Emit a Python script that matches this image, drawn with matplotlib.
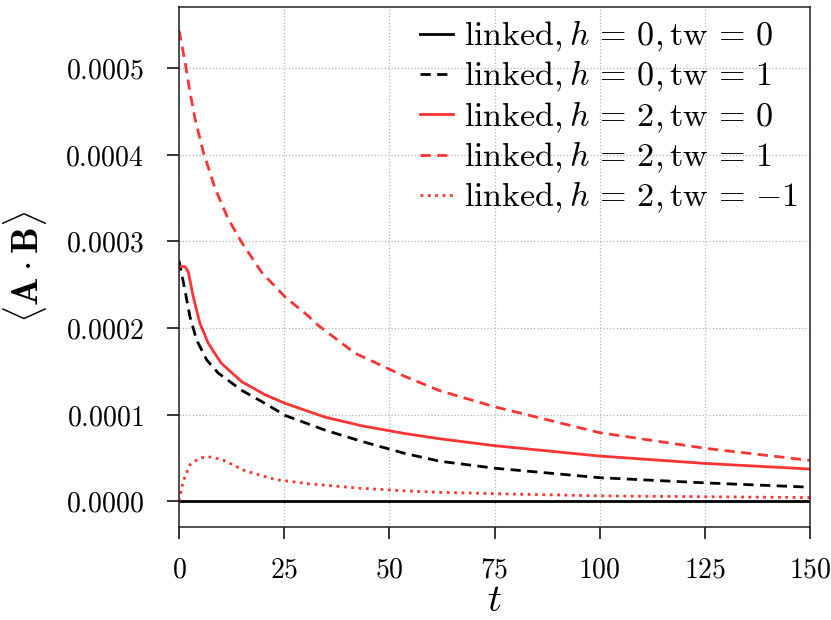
import numpy as np
import matplotlib
matplotlib.use("Agg")
import matplotlib.pyplot as plt
from matplotlib.ticker import FuncFormatter, MultipleLocator

plt.rcParams['mathtext.fontset'] = 'cm'
plt.rcParams['font.family'] = ['DejaVu Serif']
plt.rcParams['lines.dashed_pattern'] = [3.7, 2.3]

# dados (valores em unidades de 1e-4)
t_h0_tw0 = [0, 150]
v_h0_tw0 = [0.0, 0.0]

t_h0_tw1 = [0, 1.4, 2.6, 4.2, 6.6, 9.3, 14.9, 20.4, 25.2, 34.7, 43.4, 53.7, 62, 75, 100, 125, 150]
v_h0_tw1 = [2.78, 2.44, 2.13, 1.86, 1.63, 1.48, 1.28, 1.13, 0.99, 0.82, 0.69, 0.55, 0.46, 0.38, 0.27, 0.21, 0.16]

t_h2_tw0 = [0, 1.4, 2.2, 3.4, 5.0, 7.0, 10.1, 14.9, 20.4, 25.2, 34.7, 43.4, 53.7, 62, 75, 100, 125, 150]
v_h2_tw0 = [2.71, 2.71, 2.65, 2.36, 2.05, 1.82, 1.59, 1.38, 1.23, 1.13, 0.97, 0.87, 0.78, 0.72, 0.64, 0.52, 0.435, 0.37]

t_h2_tw1 = [0, 1.43, 2.6, 3.8, 5.8, 8.6, 11.7, 14.9, 19.7, 25.2, 30.7, 33.1, 41.8, 53.7, 62, 75, 100, 125, 150]
v_h2_tw1 = [5.44, 5.08, 4.73, 4.42, 4.03, 3.61, 3.26, 2.99, 2.64, 2.36, 2.14, 2.03, 1.71, 1.44, 1.275, 1.09, 0.79, 0.61, 0.47]

t_h2_twm1 = [0, 1.0, 2.6, 5.0, 7.8, 10.9, 15.7, 22.8, 30.7, 42.6, 52.9, 62, 75, 100, 125, 150]
v_h2_twm1 = [0.0, 0.23, 0.42, 0.50, 0.51, 0.465, 0.35, 0.25, 0.2, 0.15, 0.12, 0.1, 0.085, 0.06, 0.05, 0.04]

vermelho = '#ff3333'
escala = 1e-4

figure = plt.figure(figsize=(8.31, 6.2), dpi=100)
ax = figure.add_axes([179 / 831, 1 - 527 / 620, (810 - 179) / 831, (527 - 7) / 620])

series = [
    (t_h0_tw0, v_h0_tw0, 'black', '-', r'$\mathrm{linked}, h\,=\,0, \mathrm{tw}\,=\,0$'),
    (t_h0_tw1, v_h0_tw1, 'black', '--', r'$\mathrm{linked}, h\,=\,0, \mathrm{tw}\,=\,1$'),
    (t_h2_tw0, v_h2_tw0, vermelho, '-', r'$\mathrm{linked}, h\,=\,2, \mathrm{tw}\,=\,0$'),
    (t_h2_tw1, v_h2_tw1, vermelho, '--', r'$\mathrm{linked}, h\,=\,2, \mathrm{tw}\,=\,1$'),
    (t_h2_twm1, v_h2_twm1, vermelho, ':', r'$\mathrm{linked}, h\,=\,2, \mathrm{tw}\,=\,{-1}$'),
]
for t, v, cor, estilo, rotulo in series:
    ax.plot(t, np.array(v) * escala, color=cor, linestyle=estilo, lw=2.0, label=rotulo)

ax.set_xlim(0, 150)
ax.set_ylim(-0.30e-4, 5.71e-4)
ax.xaxis.set_major_locator(MultipleLocator(25))
ax.yaxis.set_major_locator(MultipleLocator(1e-4))
ax.xaxis.set_major_formatter(FuncFormatter(lambda v, p: r'$%d$' % v))
ax.yaxis.set_major_formatter(FuncFormatter(lambda v, p: r'$%.4f$' % (0.0 if abs(v) < 1e-12 else v)))

ax.tick_params(direction='out', length=8.5, width=1.1, labelsize=20)
ax.tick_params(axis='y', pad=17)
ax.tick_params(axis='x', pad=13)
for s in ax.spines.values():
    s.set_linewidth(1.1)
    s.set_color('#222222')

ax.grid(True, linestyle=':', color='#b5b5b5', linewidth=0.9)
ax.set_axisbelow(True)

ax.set_xlabel(r'$t$', fontsize=28)
ax.xaxis.label.set_va('baseline')
ax.xaxis.set_label_coords(0.5, (527 - 611) / 520)
ax.set_ylabel(r'$\langle \mathbf{A} \cdot \mathbf{B} \rangle$', fontsize=27, labelpad=12)

ax.legend(loc='upper right', frameon=False, fontsize=24.5, handlelength=0.97,
          handletextpad=0.32, labelspacing=0.156, borderpad=0.2, borderaxespad=0.15)

figure.savefig('out.png', dpi=100)
plt.close(figure)
